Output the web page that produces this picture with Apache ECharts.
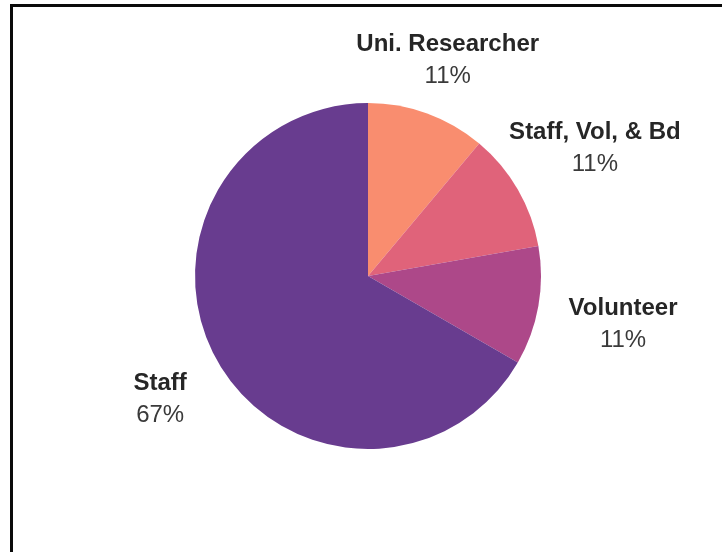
<!DOCTYPE html>
<html>
<head>
<meta charset="utf-8">
<script src="https://cdn.jsdelivr.net/npm/echarts@6/dist/echarts.min.js"></script>
<style>
  html, body { margin: 0; padding: 0; background: #fff; }
  #wrap { position: relative; width: 722px; height: 552px; overflow: hidden; }
  #chart { position: absolute; left: 0; top: 0; width: 722px; height: 552px; }
  #frame { position: absolute; left: 10px; top: 4px; right: -10px; bottom: -10px;
           border-top: 3px solid #0a0a0a; border-left: 3px solid #0a0a0a; pointer-events: none; }
</style>
</head>
<body>
<div id="wrap">
  <div id="chart"></div>
  <div id="frame"></div>
</div>
<script>
// Respondent roles
const categories = ['Uni. Researcher', 'Staff, Vol, & Bd', 'Volunteer', 'Staff'];
const counts = [1, 1, 1, 6];
const colors = ['#F98D6F', '#E0637A', '#AD4889', '#683C8F'];

// Pie geometry (pixels)
const CX = 368, CY = 276, R = 173;
// distance from the centre to each label block's centre
const labelDist = [233, 262, 259, 240];
const labelShiftY = 3;

const total = counts.reduce((a, b) => a + b, 0);
function midAngle(i) {
  let before = 0;
  for (let k = 0; k < i; k++) before += counts[k];
  return (before + counts[i] / 2) / total * 2 * Math.PI; // clockwise from 12 o'clock
}

const chart = echarts.init(document.getElementById('chart'), null, { renderer: 'canvas' });
chart.setOption({
  backgroundColor: 'transparent',
  animation: false,
  series: [{
    type: 'pie',
    center: [CX, CY],
    radius: [0, R],
    startAngle: 90,
    clockwise: true,
    avoidLabelOverlap: false,
    data: categories.map((name, i) => ({
      name: name,
      value: counts[i],
      itemStyle: { color: colors[i] }
    })),
    itemStyle: { borderWidth: 0 },
    label: {
      show: true,
      position: 'outside',
      formatter: p => '{n|' + p.name + '}\n{v|' + Math.round(p.percent) + '%}',
      rich: {
        n: { fontFamily: 'Liberation Sans, Arial, sans-serif', fontSize: 24, fontWeight: 'bold',
             color: '#262626', lineHeight: 32, align: 'center' },
        v: { fontFamily: 'Liberation Sans, Arial, sans-serif', fontSize: 24, fontWeight: 'normal',
             color: '#3a3a3a', lineHeight: 32, align: 'center' }
      }
    },
    labelLine: { show: false },
    emphasis: { disabled: true },
    // place each label block around the pie along its slice's middle direction
    labelLayout: function (params) {
      const i = params.dataIndex;
      const a = midAngle(i);
      return {
        x: CX + labelDist[i] * Math.sin(a),
        y: CY - labelDist[i] * Math.cos(a) + labelShiftY,
        align: 'center',
        verticalAlign: 'middle'
      };
    }
  }]
});
</script>
</body>
</html>
